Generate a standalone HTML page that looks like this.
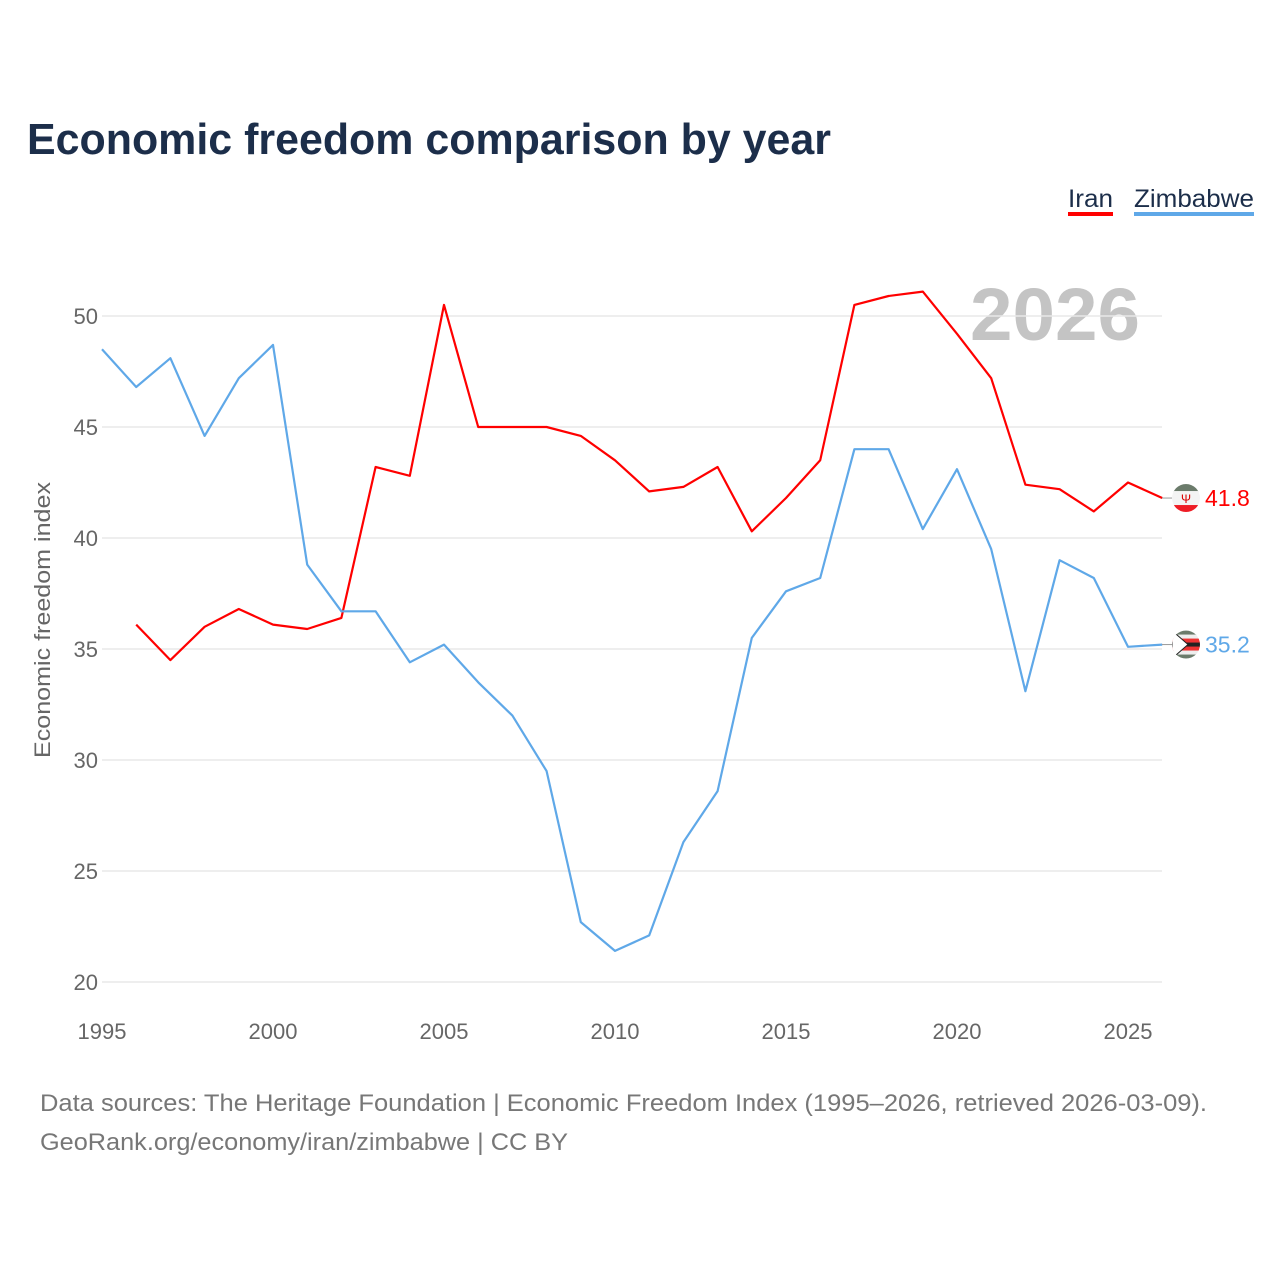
<!DOCTYPE html>
<html><head><meta charset="utf-8"><style>
html,body{margin:0;padding:0;background:#fff;}
body{width:1280px;height:1280px;overflow:hidden;font-family:"Liberation Sans",sans-serif;}
</style></head><body>
<svg width="1280" height="1280" viewBox="0 0 1280 1280" xmlns="http://www.w3.org/2000/svg">
<defs>
<clipPath id="cIran"><circle cx="1186" cy="0" r="14"/></clipPath>
</defs>
<text x="27" y="154" font-size="44" font-weight="bold" fill="#1c2e4a" textLength="804" lengthAdjust="spacingAndGlyphs">Economic freedom comparison by year</text>
<g>
<text x="1068" y="207" font-size="25" fill="#1c2e4a" textLength="45" lengthAdjust="spacingAndGlyphs">Iran</text>
<rect x="1068" y="212" width="45" height="4" fill="#ff0000"/>
<text x="1134" y="207" font-size="25" fill="#1c2e4a" textLength="120" lengthAdjust="spacingAndGlyphs">Zimbabwe</text>
<rect x="1134" y="212" width="120" height="4" fill="#5fa8e8"/>
</g>
<text x="1140" y="340" font-size="74" font-weight="bold" fill="#c4c4c4" text-anchor="end" textLength="170" lengthAdjust="spacingAndGlyphs">2026</text>
<g id="grid"></g>
<g id="xticks"></g>
<text transform="translate(50,620) rotate(-90)" font-size="22" fill="#666" text-anchor="middle" textLength="276" lengthAdjust="spacingAndGlyphs">Economic freedom index</text>
<g id="series"></g>
<text x="40" y="1111" font-size="24" fill="#777" textLength="1167" lengthAdjust="spacingAndGlyphs">Data sources: The Heritage Foundation | Economic Freedom Index (1995–2026, retrieved 2026-03-09).</text>
<text x="40" y="1150" font-size="24" fill="#777" textLength="528" lengthAdjust="spacingAndGlyphs">GeoRank.org/economy/iran/zimbabwe | CC BY</text>
</svg>
<script>
const years = [1995,1996,1997,1998,1999,2000,2001,2002,2003,2004,2005,2006,2007,2008,2009,2010,2011,2012,2013,2014,2015,2016,2017,2018,2019,2020,2021,2022,2023,2024,2025,2026];
const iran = [null,36.1,34.5,36.0,36.8,36.1,35.9,36.4,43.2,42.8,50.5,45.0,45.0,45.0,44.6,43.5,42.1,42.3,43.2,40.3,41.8,43.5,50.5,50.9,51.1,49.2,47.2,42.4,42.2,41.2,42.5,41.8];
const zimbabwe = [48.5,46.8,48.1,44.6,47.2,48.7,38.8,36.7,36.7,34.4,35.2,33.5,32.0,29.5,22.7,21.4,22.1,26.3,28.6,35.5,37.6,38.2,44.0,44.0,40.4,43.1,39.5,33.1,39.0,38.2,35.1,35.2];
const yTicks = [20,25,30,35,40,45,50];
const xTicks = [1995,2000,2005,2010,2015,2020,2025];
const NS="http://www.w3.org/2000/svg";
const X = y => 102 + (y-1995)*(1128-102)/30;
const Y = v => 982 - (v-20)*(982-316)/30;
function mk(tag,attrs,parent,text){const e=document.createElementNS(NS,tag);for(const k in attrs)e.setAttribute(k,attrs[k]);if(text!==undefined)e.textContent=text;parent.appendChild(e);return e;}
const grid=document.getElementById('grid');
yTicks.forEach(t=>{
 const l=mk('line',{x1:102,x2:1162,y1:Y(t),y2:Y(t),stroke:'#e8e8e8','stroke-width':1.5},grid);
 
 
 const tx=mk('text',{x:98,y:Y(t)+8,'font-size':22,fill:'#666','text-anchor':'end'},grid,String(t));
 
 
});
const xt=document.getElementById('xticks');
xTicks.forEach(t=>{
 const tx=mk('text',{x:X(t),y:1039,'font-size':22,fill:'#666','text-anchor':'middle'},xt,String(t));
 
 
});
const sg=document.getElementById('series');
function flag(ly,name,stripes){
 const cid='clip-'+name;
 const defs=document.querySelector('defs');
 const cp=mk('clipPath',{id:cid},defs);
 mk('circle',{cx:1186,cy:ly,r:14},cp);
 const g=mk('g',{'clip-path':'url(#'+cid+')'},sg);
 
 
 const h=28/stripes.length;
 stripes.forEach((c,i)=>mk('rect',{x:1172,y:ly-14+i*h,width:28,height:h+0.5,fill:c},g));
 if(name==='zimbabwe') mk('path',{d:`M1172,${ly-14} L1188,${ly} L1172,${ly+14} Z`,fill:'#fff',stroke:'#222','stroke-width':1},g);
 if(name==='iran') mk('text',{x:1186,y:ly+5,'font-size':12,fill:'#da0000','text-anchor':'middle'},g,'\u03a8');
}
function draw(vals,color,name,stripes){
 let d='';vals.forEach((v,i)=>{if(v==null)return;d+=(d?'L':'M')+X(years[i]).toFixed(1)+','+Y(v).toFixed(1);});
 const p=mk('path',{d:d,fill:'none',stroke:color,'stroke-width':2.2,'stroke-linejoin':'round'},sg);
 
 
 const last=vals[vals.length-1];const ly=Y(last);
 const ln=mk('line',{x1:1162,x2:1176,y1:ly,y2:ly,stroke:'#999','stroke-width':1},sg);
 
 
 flag(ly,name,stripes);
 const lab=mk('text',{x:1205,y:ly+8,'font-size':23,fill:color},sg,last.toFixed(1));
 
 
}
draw(iran,'#ff0000','iran',['#6b7b6b','#f4f4f4','#f4f4f4','#ee1c25']);
draw(zimbabwe,'#5fa8e8','zimbabwe',['#6b7b6b','#eee','#ee3333','#222','#ee3333','#eee','#6b7b6b']);
</script>
</body></html>
